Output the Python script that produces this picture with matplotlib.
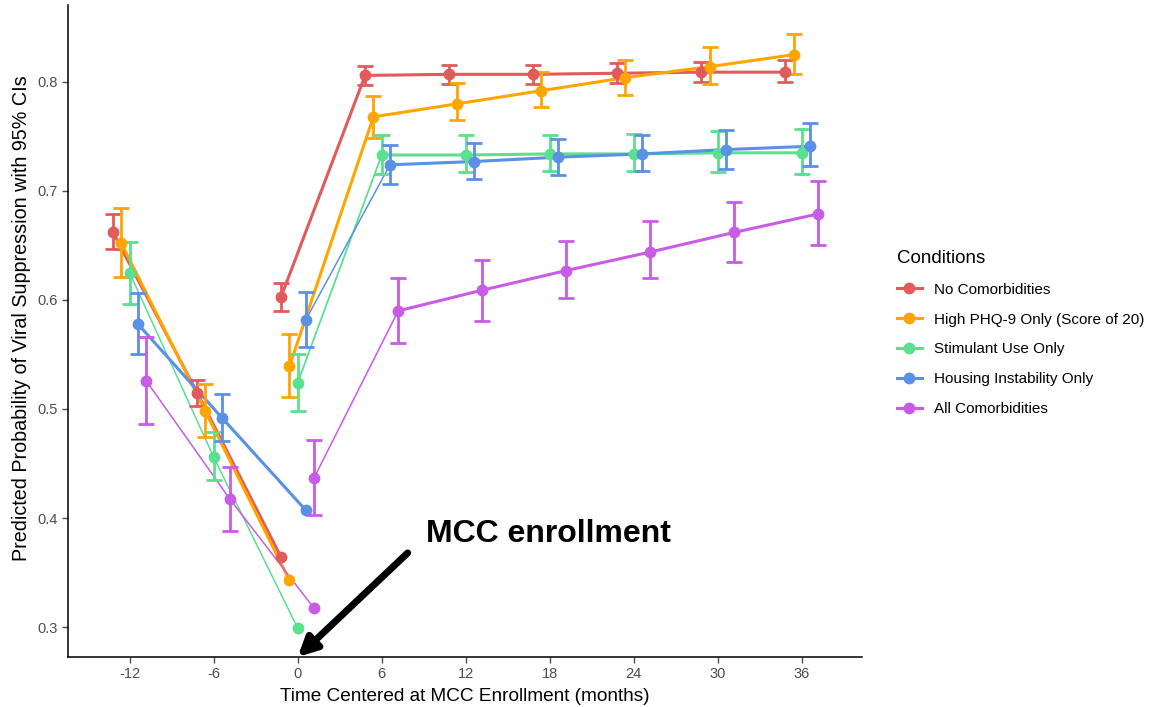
import numpy as np
import matplotlib
matplotlib.use('Agg')
import matplotlib.pyplot as plt

plt.rcParams['font.family'] = ['Liberation Sans', 'DejaVu Sans']
plt.rcParams['axes.unicode_minus'] = False

# data
times_pre = [-12, -6, 0]
times_post = [0, 6, 12, 18, 24, 30, 36]
conditions = ['No Comorbidities', 'High PHQ-9 Only (Score of 20)', 'Stimulant Use Only',
              'Housing Instability Only', 'All Comorbidities']
nan = np.nan

none_pre = [0.662, 0.515, 0.364]
none_pre_lo = [0.647, 0.503, nan]
none_pre_hi = [0.679, 0.527, nan]
none_post = [0.603, 0.806, 0.807, 0.807, 0.808, 0.809, 0.809]
none_post_lo = [0.590, 0.797, 0.798, 0.798, 0.799, 0.800, 0.800]
none_post_hi = [0.616, 0.815, 0.816, 0.816, 0.817, 0.818, 0.820]

phq_pre = [0.652, 0.498, 0.343]
phq_pre_lo = [0.621, 0.474, nan]
phq_pre_hi = [0.684, 0.523, nan]
phq_post = [0.539, 0.768, 0.780, 0.792, 0.804, 0.814, 0.825]
phq_post_lo = [0.511, 0.749, 0.765, 0.777, 0.788, 0.798, 0.807]
phq_post_hi = [0.569, 0.787, 0.799, 0.809, 0.820, 0.832, 0.844]

stim_pre = [0.625, 0.456, 0.299]
stim_pre_lo = [0.596, 0.435, nan]
stim_pre_hi = [0.653, 0.479, nan]
stim_post = [0.524, 0.733, 0.733, 0.734, 0.734, 0.735, 0.735]
stim_post_lo = [0.498, 0.716, 0.717, 0.718, 0.718, 0.717, 0.716]
stim_post_hi = [0.550, 0.751, 0.751, 0.751, 0.752, 0.755, 0.757]

house_pre = [0.578, 0.492, 0.407]
house_pre_lo = [0.550, 0.471, nan]
house_pre_hi = [0.606, 0.514, nan]
house_post = [0.582, 0.724, 0.727, 0.731, 0.734, 0.738, 0.741]
house_post_lo = [0.557, 0.706, 0.711, 0.715, 0.718, 0.720, 0.723]
house_post_hi = [0.607, 0.742, 0.744, 0.748, 0.751, 0.756, 0.762]

all_pre = [0.526, 0.417, 0.317]
all_pre_lo = [0.486, 0.388, nan]
all_pre_hi = [0.566, 0.447, nan]
all_post = [0.437, 0.590, 0.609, 0.627, 0.644, 0.662, 0.679]
all_post_lo = [0.403, 0.561, 0.581, 0.602, 0.620, 0.635, 0.650]
all_post_hi = [0.472, 0.620, 0.637, 0.654, 0.672, 0.690, 0.709]

series = [
    (none_pre, none_pre_lo, none_pre_hi, none_post, none_post_lo, none_post_hi),
    (phq_pre, phq_pre_lo, phq_pre_hi, phq_post, phq_post_lo, phq_post_hi),
    (stim_pre, stim_pre_lo, stim_pre_hi, stim_post, stim_post_lo, stim_post_hi),
    (house_pre, house_pre_lo, house_pre_hi, house_post, house_post_lo, house_post_hi),
    (all_pre, all_pre_lo, all_pre_hi, all_post, all_post_lo, all_post_hi),
]
colors = ['#E35A5A', '#FFA500', '#5BE08F', '#5A91E6', '#C85CE6']
dodge = [-1.18, -0.59, 0.0, 0.59, 1.18]
lw_pre = [2.2, 2.2, 1.1, 2.2, 1.1]
lw_first = [2.2, 2.2, 1.3, 1.1, 1.1]

fig = plt.figure(figsize=(11.59, 7.07), dpi=100)
ax = fig.add_axes([68/1159, 50/707, (862-68)/1159, (657-5)/707])

for i, (pre, pre_lo, pre_hi, post, post_lo, post_hi) in enumerate(series):
    c = colors[i]
    xp = np.array(times_pre) + dodge[i]
    xq = np.array(times_post) + dodge[i]
    pre, pre_lo, pre_hi = map(np.array, (pre, pre_lo, pre_hi))
    post, post_lo, post_hi = map(np.array, (post, post_lo, post_hi))
    ax.plot(xp, pre, color=c, lw=lw_pre[i], zorder=2)
    ax.plot(xq[:2], post[:2], color=c, lw=lw_first[i], zorder=2)
    ax.plot(xq[1:], post[1:], color=c, lw=2.2, zorder=2)
    for x, y, lo, hi in [(xp, pre, pre_lo, pre_hi), (xq, post, post_lo, post_hi)]:
        ok = ~np.isnan(lo)
        ax.errorbar(x[ok], y[ok], yerr=[y[ok] - lo[ok], hi[ok] - y[ok]], fmt='none',
                    ecolor=c, elinewidth=2.0, capsize=6, capthick=2.0, zorder=3)
        ax.plot(x, y, 'o', color=c, ms=7.5, zorder=4)
    ax.plot([], [], '-o', color=c, lw=2.2, ms=7.5, label=conditions[i])

ax.set_xlim(-16.4, 40.3)
ax.set_ylim(0.2725, 0.8706)
ax.set_xticks([-12, -6, 0, 6, 12, 18, 24, 30, 36])
ax.set_yticks([0.3, 0.4, 0.5, 0.6, 0.7, 0.8])
ax.set_yticklabels(['0.3', '0.4', '0.5', '0.6', '0.7', '0.8'])
ax.tick_params(colors='#4D4D4D', labelsize=10.5, length=4, width=1)
for s in ['top', 'right']:
    ax.spines[s].set_visible(False)
for s in ['left', 'bottom']:
    ax.spines[s].set_color('black')
    ax.spines[s].set_linewidth(1.1)
ax.set_xlabel('Time Centered at MCC Enrollment (months)', fontsize=13.7, labelpad=5)
ax.set_ylabel('Predicted Probability of Viral Suppression with 95% CIs', fontsize=14.2)
ax.yaxis.set_label_coords(-0.047, 0.52)

leg = ax.legend(loc='center left', bbox_to_anchor=(1.027, 0.497), frameon=False,
                title='Conditions', fontsize=11, title_fontsize=13.5,
                handlelength=1.6, handletextpad=0.8, labelspacing=1.04, alignment='left')

ax.annotate('', xy=(0, 0.2725), xytext=(7.86, 0.368),
            arrowprops=dict(arrowstyle='-|>', color='black', lw=5, mutation_scale=28,
                            shrinkA=0, shrinkB=0),
            annotation_clip=False)
ax.text(9.2, 0.385, 'MCC enrollment', fontsize=23, fontweight='bold', va='center', ha='left')

fig.savefig('out.png', dpi=100)
